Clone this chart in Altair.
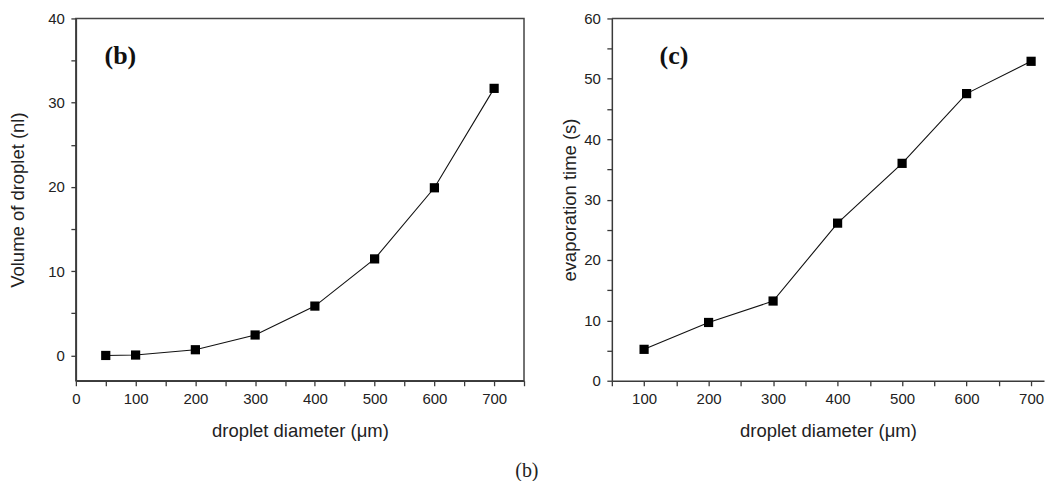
import altair as alt
import pandas as pd

# Panel (b): droplet volume
vol_diam = [50, 100, 200, 300, 400, 500, 600, 700]
vol_nl = [0.0, 0.05, 0.68, 2.43, 5.86, 11.46, 19.9, 31.7]

# Panel (c): evaporation time
evap_diam = [100, 200, 300, 400, 500, 600, 700]
evap_s = [5.2, 9.65, 13.2, 26.1, 36.0, 47.55, 52.9]

panel_labels = ["(b)", "(c)"]
label_x = [48, 124]
label_y = [35.5, 53.7]

x_title = "droplet diameter (\u03bcm)"
H = 363
SANS = "Liberation Sans"
SERIF = "Liberation Serif"
INK = "#222222"
AX = "#3a3a3a"


def axis_x(values):
    return alt.Axis(
        values=values,
        labelExpr="datum.value % 100 === 0 ? datum.label : ''",
        grid=False, tickSize=5, tickWidth=1.3, tickColor=AX,
        domainColor=AX, domainWidth=1.5,
        labelFont=SANS, labelFontSize=15, labelColor=INK, labelPadding=6,
        labelFlush=False, labelOverlap=False,
        title=x_title, titleFont=SANS, titleFontSize=18.5, titleFontWeight="normal",
        titleColor=INK, titleY=50, titleBaseline="middle",
    )


def axis_y(values, title, tx):
    return alt.Axis(
        values=values,
        labelExpr="datum.value % 10 === 0 ? datum.label : ''",
        grid=False, tickSize=5, tickWidth=1.3, tickColor=AX,
        domainColor=AX, domainWidth=1.5,
        labelFont=SANS, labelFontSize=15, labelColor=INK, labelPadding=6.5,
        labelFlush=False, labelOverlap=False,
        title=title, titleFont=SANS, titleFontSize=18.5, titleFontWeight="normal",
        titleColor=INK, titleX=tx, titleBaseline="middle",
    )


def panel(xs, ys, xdom, ydom, xticks, yticks, ytitle, tx, lab, lx, ly, w, frame):
    df = pd.DataFrame({"d": xs, "v": ys})
    xs_ = alt.Scale(domain=xdom, nice=False, zero=False)
    ys_ = alt.Scale(domain=ydom, nice=False, zero=False)
    ax_x = axis_x(xticks)
    ax_y = axis_y(yticks, ytitle, tx)
    base = alt.Chart(df).encode(
        x=alt.X("d:Q", scale=xs_, axis=ax_x),
        y=alt.Y("v:Q", scale=ys_, axis=ax_y),
    )
    line = base.mark_line(color="#111111", strokeWidth=1.1)
    pts = base.mark_square(color="#000000", size=85, opacity=1)
    tdf = pd.DataFrame({"t": [lab], "x": [lx], "y": [ly]})
    txt = alt.Chart(tdf).mark_text(
        font=SERIF, fontSize=26, fontWeight="bold", align="left",
        baseline="middle", color="#111111"
    ).encode(
        x=alt.X("x:Q", scale=xs_, axis=ax_x),
        y=alt.Y("y:Q", scale=ys_, axis=ax_y),
        text="t:N",
    )
    layers = [line, pts, txt]
    if frame:
        props = dict(width=w, height=H, view=alt.ViewBackground(stroke="#444444", strokeWidth=1.5))
    else:
        # panel cut off at the right edge: only the top border is visible
        top = alt.Chart(tdf).mark_rule(color="#444444", strokeWidth=1.5).encode(
            x=alt.value(0), x2=alt.value(w), y=alt.value(0)
        )
        layers.append(top)
        props = dict(width=w, height=H, view=alt.ViewBackground(stroke="transparent"))
    return alt.layer(*layers).properties(**props)


left = panel(
    vol_diam, vol_nl, [0, 750], [-3, 40],
    list(range(0, 751, 50)), list(range(0, 41, 5)),
    "Volume of droplet (nl)", -58,
    panel_labels[0], label_x[0], label_y[0], 449, True,
)
right = panel(
    evap_diam, evap_s, [50, 720], [0, 60],
    list(range(50, 720, 50)), list(range(0, 61, 5)),
    "evaporation time (s)", -42,
    panel_labels[1], label_x[1], label_y[1], 433, False,
)

chart = alt.hconcat(left, right, spacing=88, bounds="flush").properties(
    title=alt.TitleParams(
        "(b)", orient="bottom", anchor="middle", font=SERIF, fontSize=20,
        fontWeight="normal", color=INK, offset=20, dx=0,
    ),
    padding={"left": 0, "top": 2, "right": 0, "bottom": 0},
    background="white",
).configure_view(
    stroke="#444444", strokeWidth=1.5
)

chart.save("out.html", embed_options={"renderer": "svg", "actions": False})
